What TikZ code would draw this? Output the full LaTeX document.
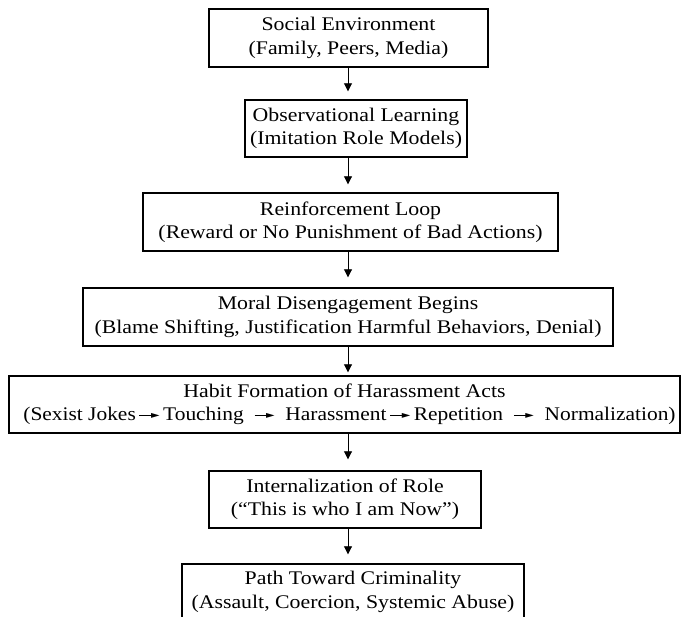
\documentclass[tikz,border=0pt]{standalone}
\usepackage{fontspec}
\usepackage{graphicx}
\setmainfont{Liberation Serif}
\newfontfamily\symfont{DejaVu Sans}
\usetikzlibrary{arrows.meta}

% one line of box text, set slightly wide
\newcommand{\wline}[1]{\scalebox{1.13}[1]{#1}}
% small inline arrow between the stages of a sequence
\newcommand{\seqarrow}{$\vcenter{\hbox{\rule{12pt}{0.9pt}}}\kern-1.5pt
  \vcenter{\hbox{\symfont\fontsize{10}{10}\selectfont ►}}$}

\begin{document}
\begin{tikzpicture}[x=1pt,y=-1pt,
  stage/.style={draw=black,line width=1.4pt,inner sep=0pt,align=center,
    font=\fontsize{19.3}{23.3}\selectfont},
  flow/.style={line width=0.9pt,-{Triangle[length=8pt,width=8pt]}}]
  \fill[white] (0,0) rectangle (681,617);
  \clip (0,0) rectangle (681,617);

  \coordinate (ax) at (348,0);

  \node[stage,minimum width=279pt,minimum height=58pt] (b1) at (348.5,38)
    {\wline{Social Environment}\\\wline{(Family, Peers, Media)}};
  \node[stage,minimum width=222pt,minimum height=57pt] (b2) at (356,128.5)
    {\wline{Observational Learning}\\\wline{(Imitation Role Models)}};
  \node[stage,minimum width=415pt,minimum height=58pt] (b3) at (350.5,222)
    {\wline{Reinforcement Loop}\\\wline{(Reward or No Punishment of Bad Actions)}};
  \node[stage,minimum width=530pt,minimum height=58pt] (b4) at (348,317)
    {\wline{Moral Disengagement Begins}\\\wline{(Blame Shifting, Justification Harmful Behaviors, Denial)}};
  \node[stage,minimum width=671pt,minimum height=57pt] (b5) at (344.5,404.5)
    {\wline{Habit Formation of Harassment Acts}\\\hspace*{10pt}\scalebox{1.11}[1]{(Sexist Jokes\,\seqarrow\,Touching\ \ \seqarrow\ \ Harassment\,\seqarrow\,Repetition\ \ \seqarrow\ \ Normalization)}};
  \node[stage,minimum width=272pt,minimum height=57pt] (b6) at (345,499.5)
    {\wline{Internalization of Role}\\\wline{(``This is who I am Now'')}};
  \node[stage,minimum width=342pt,minimum height=56pt] (b7) at (353,592)
    {\wline{Path Toward Criminality}\\\wline{(Assault, Coercion, Systemic Abuse)}};

  \draw[flow,shorten >=8pt]  (b1.south -| ax) -- (b2.north -| ax);
  \draw[flow,shorten >=8pt]  (b2.south -| ax) -- (b3.north -| ax);
  \draw[flow,shorten >=10pt] (b3.south -| ax) -- (b4.north -| ax);
  \draw[flow,shorten >=3pt]  (b4.south -| ax) -- (b5.north -| ax);
  \draw[flow,shorten >=11pt] (b5.south -| ax) -- (b6.north -| ax);
  \draw[flow,shorten >=9pt]  (b6.south -| ax) -- (b7.north -| ax);
\end{tikzpicture}
\end{document}
